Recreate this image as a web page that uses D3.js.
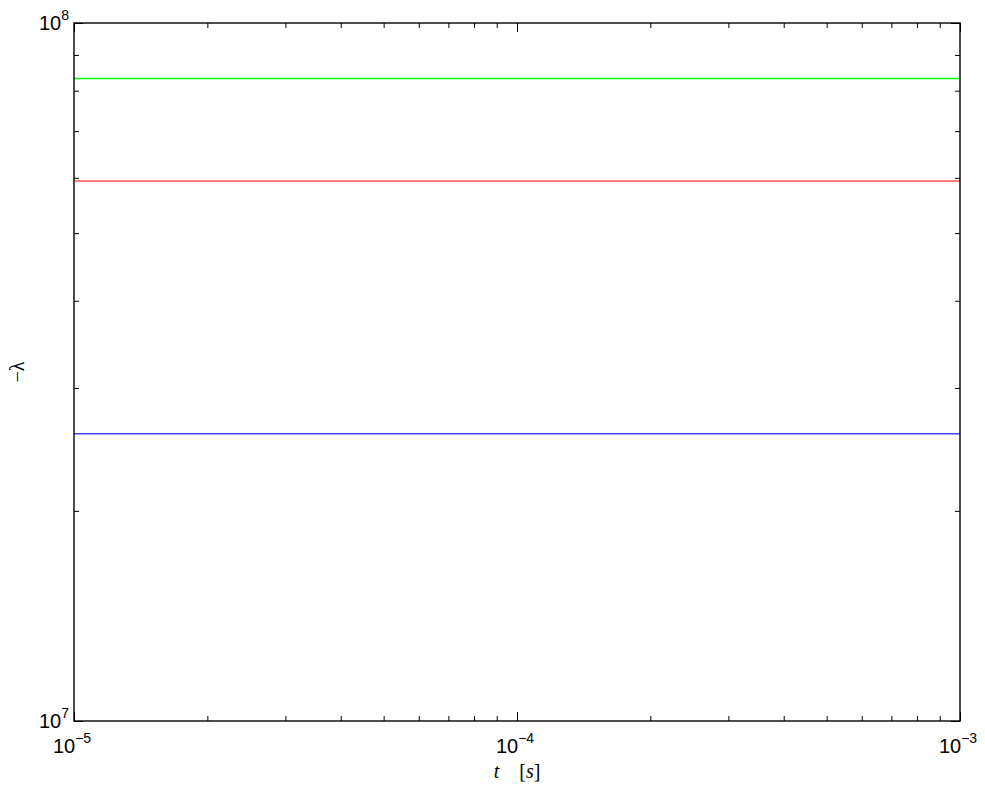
<!DOCTYPE html>
<html>
<head>
<meta charset="utf-8">
<script src="https://cdn.jsdelivr.net/npm/d3@7"></script>
<style>
  body { margin: 0; background: #fff; }
  svg { display: block; }
  .sans { font-family: "Liberation Sans", Arial, sans-serif; }
  .serif { font-family: "Liberation Serif", "DejaVu Serif", serif; }
</style>
</head>
<body>
<svg class="main" width="985" height="790"></svg>
<script>
// time range of the plot (seconds)
var tRange = [1e-5, 1e-3]
var yRange = [1e7, 1e8]

// eigenvalue series (constant over t)
var seriesNames = ['lambda1', 'lambda2', 'lambda3']
var seriesValues = [8.33e7, 5.94e7, 2.58e7]
var seriesColors = ['#00ff00', '#ff5555', '#4444ff']

// tick labels
var xTickValues = [1e-5, 1e-4, 1e-3]
var xTickExp = ['\u22125', '\u22124', '\u22123']
var yTickValues = [1e7, 1e8]
var yTickExp = ['7', '8']

const margin = {top: 23, right: 25, bottom: 69, left: 74}
const width = 985 - margin.left - margin.right
const height = 790 - margin.top - margin.bottom

var body = d3.select('svg.main').append('g')
  .attr('transform', `translate(${margin.left}, ${margin.top})`)

const xScale = d3.scaleLog().domain(tRange).range([0, width])
const yScale = d3.scaleLog().domain(yRange).range([height, 0])

// minor ticks 2..9 per decade
function minors(lo, hi) {
  var out = []
  for (var e = Math.log10(lo); e < Math.log10(hi); e++) {
    for (var k = 2; k <= 9; k++) out.push(k * Math.pow(10, e))
  }
  return out
}

var lineGen = d3.line().x(d => xScale(d[0])).y(d => yScale(d[1]))

// lines
body.selectAll('path.series')
  .data(seriesValues)
  .join('path')
  .attr('class', 'series')
  .attr('fill', 'none')
  .attr('stroke', (d, i) => seriesColors[i])
  .attr('stroke-width', 1.5)
  .attr('d', d => lineGen([[tRange[0], d], [tRange[1], d]]))

function styleAxis(g) {
  g.selectAll('.domain').remove()
  g.selectAll('line').attr('stroke', '#000').attr('stroke-width', 1)
}

// major and minor ticks on all four sides (inside)
var sides = [
  {axis: d3.axisBottom, scale: xScale, pos: `translate(0, ${height})`},
  {axis: d3.axisTop, scale: xScale, pos: 'translate(0, 0)'},
  {axis: d3.axisLeft, scale: yScale, pos: 'translate(0, 0)'},
  {axis: d3.axisRight, scale: yScale, pos: `translate(${width}, 0)`}
]
sides.forEach(function(s) {
  var isX = s.scale === xScale
  var majors = isX ? xTickValues : yTickValues
  var mins = isX ? minors(tRange[0], tRange[1]) : minors(yRange[0], yRange[1])
  body.append('g').attr('transform', s.pos)
    .call(s.axis(s.scale).tickValues(majors).tickSize(-9).tickFormat(''))
    .call(styleAxis)
  body.append('g').attr('transform', s.pos)
    .call(s.axis(s.scale).tickValues(mins).tickSize(-5).tickFormat(''))
    .call(styleAxis)
})

// box
body.append('rect')
  .attr('width', width).attr('height', height)
  .attr('fill', 'none').attr('stroke', '#000').attr('stroke-width', 1.4)

// tick labels with superscripts
function powerLabel(sel, exp) {
  sel.append('tspan').text('10')
  sel.append('tspan').text(exp).attr('font-size', 14).attr('dy', -10)
}
xTickValues.forEach(function(v, i) {
  body.append('text')
    .attr('class', 'sans')
    .attr('x', xScale(v) - 2).attr('y', height + 32)
    .attr('text-anchor', 'middle')
    .attr('font-size', 20)
    .call(powerLabel, xTickExp[i])
})
yTickValues.forEach(function(v, i) {
  body.append('text')
    .attr('class', 'sans')
    .attr('x', -5).attr('y', yScale(v) + 7)
    .attr('text-anchor', 'end')
    .attr('font-size', 20)
    .call(powerLabel, yTickExp[i])
})

// axis labels
var xl = body.append('text')
  .attr('class', 'serif')
  .attr('x', width / 2).attr('y', height + 57)
  .attr('text-anchor', 'middle')
  .attr('font-size', 20)
xl.append('tspan').attr('font-style', 'italic').text('t')
xl.append('tspan').text('\u2003[')
xl.append('tspan').attr('font-style', 'italic').text('s')
xl.append('tspan').text(']')

body.append('text')
  .attr('class', 'serif')
  .attr('transform', `translate(-50, ${height / 2}) rotate(-90)`)
  .attr('text-anchor', 'middle')
  .attr('font-size', 20)
  .text('\u2212\u03bb')
</script>
</body>
</html>
